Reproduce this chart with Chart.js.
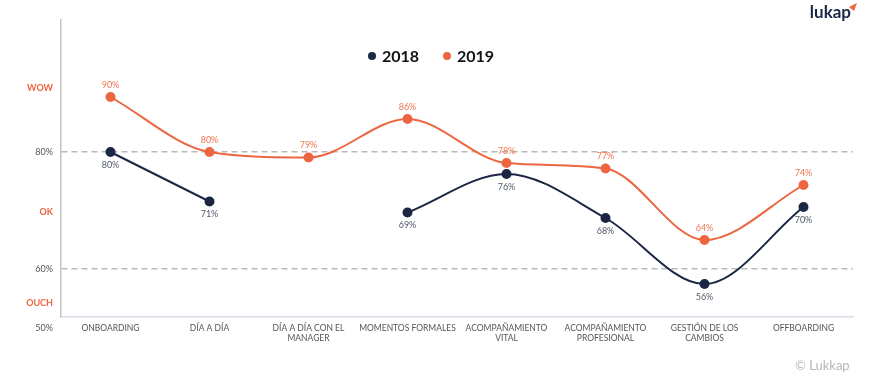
<!DOCTYPE html>
<html>
<head>
<meta charset="utf-8">
<script src="https://cdn.jsdelivr.net/npm/chart.js@4.4.1/dist/chart.umd.min.js"></script>
<style>
  html, body { margin: 0; padding: 0; background: #ffffff; }
  #wrap { position: relative; width: 883px; height: 379px; }
</style>
</head>
<body>
<div id="wrap"><canvas id="c" width="883" height="379"></canvas></div>
<script>
// ---- data ----
const categories = [
  'ONBOARDING',
  'DÍA A DÍA',
  ['DÍA A DÍA CON EL', 'MANAGER'],
  'MOMENTOS FORMALES',
  ['ACOMPAÑAMIENTO', 'VITAL'],
  ['ACOMPAÑAMIENTO', 'PROFESIONAL'],
  ['GESTIÓN DE LOS', 'CAMBIOS'],
  'OFFBOARDING'
];
const seriesNames = ['2018', '2019'];
const values2018 = [80, 71, null, 69, 76, 68, 56, 70];
const values2019 = [90, 80, 79, 86, 78, 77, 64, 74];
const yTickValues = [50, 52.6, 58.7, 69, 80, 91.7];
const yTickLabels = ['50%', 'OUCH', '60%', 'OK', '80%', 'WOW'];
const dashedTickLabels = ['80%', '60%'];
const wordTickLabels = ['WOW', 'OK', 'OUCH'];
const belowAxisTickLabels = ['50%'];

const NAVY = '#1b2744';
const ORANGE = '#ec6640';
const FONT = 'Lato, "Open Sans", sans-serif';

function labelFor(v) {
  const i = yTickValues.indexOf(v);
  return i >= 0 ? yTickLabels[i] : '';
}
function tickLabel(ctx) {
  return ctx && ctx.tick ? labelFor(ctx.tick.value) : '';
}

const valueLabels = {
  id: 'valueLabels',
  afterDatasetsDraw(chart) {
    const ctx = chart.ctx;
    ctx.save();
    ctx.font = '9px ' + FONT;
    ctx.textAlign = 'center';
    ctx.textBaseline = 'middle';
    chart.data.datasets.forEach((ds, di) => {
      const meta = chart.getDatasetMeta(di);
      meta.data.forEach((pt, i) => {
        const v = ds.data[i];
        if (v === null || v === undefined) return;
        if (di === 0) {
          ctx.fillStyle = '#515a6c';
          ctx.fillText(v + '%', pt.x, pt.y + 13);
        } else {
          ctx.fillStyle = '#ef7650';
          ctx.fillText(v + '%', pt.x, pt.y - 12);
        }
      });
    });
    ctx.restore();
  }
};

const customLegend = {
  id: 'customLegend',
  afterDraw(chart) {
    const ctx = chart.ctx;
    ctx.save();
    ctx.font = 'bold 16px ' + FONT;
    ctx.textBaseline = 'middle';
    ctx.textAlign = 'left';
    const y = 56;
    const starts = [368, 443];
    chart.data.datasets.forEach((ds, i) => {
      const x = starts[i];
      ctx.fillStyle = ds.borderColor;
      ctx.beginPath();
      ctx.arc(x + 4, y, 4, 0, Math.PI * 2);
      ctx.fill();
      ctx.fillStyle = '#111';
      ctx.fillText(ds.label, x + 14, y + 1);
    });
    ctx.restore();
  }
};

const branding = {
  id: 'branding',
  afterDraw(chart) {
    const ctx = chart.ctx;
    ctx.save();
    ctx.font = 'bold 17px ' + FONT;
    ctx.fillStyle = NAVY;
    ctx.textAlign = 'right';
    ctx.textBaseline = 'alphabetic';
    ctx.fillText('lukap', 851, 18);
    ctx.fillStyle = ORANGE;
    ctx.beginPath();
    ctx.moveTo(849, 7);
    ctx.lineTo(857, 3);
    ctx.lineTo(854, 11);
    ctx.closePath();
    ctx.fill();
    ctx.font = '13px ' + FONT;
    ctx.fillStyle = '#b8b8b8';
    ctx.textAlign = 'left';
    ctx.textBaseline = 'middle';
    ctx.fillText('© Lukkap', 795, 366);
    ctx.restore();
  }
};

new Chart(document.getElementById('c'), {
  type: 'line',
  data: {
    labels: categories,
    datasets: [
      {
        label: seriesNames[0],
        data: values2018,
        borderColor: NAVY,
        backgroundColor: NAVY,
        pointBackgroundColor: NAVY,
        pointBorderColor: NAVY,
        pointRadius: 4,
        borderWidth: 2,
        tension: 0.4,
        cubicInterpolationMode: 'monotone',
        spanGaps: false
      },
      {
        label: seriesNames[1],
        data: values2019,
        borderColor: ORANGE,
        backgroundColor: ORANGE,
        pointBackgroundColor: ORANGE,
        pointBorderColor: ORANGE,
        pointRadius: 4,
        borderWidth: 2,
        tension: 0.4,
        cubicInterpolationMode: 'monotone'
      }
    ]
  },
  options: {
    responsive: false,
    animation: false,
    layout: { padding: { top: 20, right: 30, left: 0, bottom: 0 } },
    plugins: {
      legend: { display: false },
      tooltip: { enabled: false }
    },
    scales: {
      x: {
        offset: true,
        grid: { display: false, drawTicks: false },
        border: { display: true, color: '#d8dfe8', width: 1.5 },
        ticks: {
          color: '#555',
          font: { family: FONT, size: 8.5 },
          padding: 6,
          maxRotation: 0,
          autoSkip: false
        },
        afterFit(scale) { scale.height = 62; }
      },
      y: {
        min: 50,
        max: 104,
        afterBuildTicks(scale) {
          scale.ticks = yTickValues.map(v => ({ value: v }));
        },
        grid: {
          drawTicks: false,
          lineWidth: 1.5,
          color: (ctx) => dashedTickLabels.includes(tickLabel(ctx)) ? '#b9b9b9' : 'rgba(0,0,0,0)'
        },
        border: { display: true, color: '#c4c4c4', width: 1.5, dash: [6, 4] },
        ticks: {
          padding: 8,
          callback: (v) => {
            const t = labelFor(v);
            return belowAxisTickLabels.includes(t) ? ['', '', t] : t;
          },
          color: (ctx) => wordTickLabels.includes(tickLabel(ctx)) ? ORANGE : '#555',
          font: (ctx) => ({
            family: FONT,
            size: 9,
            weight: wordTickLabels.includes(tickLabel(ctx)) ? 'bold' : 'normal'
          })
        },
        afterFit(scale) { scale.width = 61; }
      }
    }
  },
  plugins: [valueLabels, customLegend, branding]
});
</script>
</body>
</html>
